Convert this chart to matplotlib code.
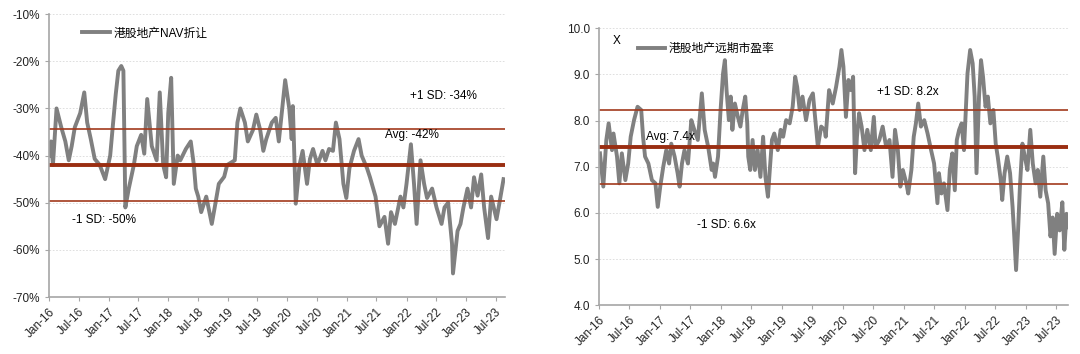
import matplotlib
matplotlib.use("Agg")
import matplotlib.pyplot as plt
import matplotlib.dates as mdates
from matplotlib.ticker import FuncFormatter, MultipleLocator
import pandas as pd

plt.rcParams['font.family'] = ['Liberation Sans', 'Noto Sans CJK SC']
plt.rcParams['axes.unicode_minus'] = False

# ---- left: HK property NAV discount (%) ----
nav_dates = [
    '2016-01-01', '2016-01-13', '2016-01-25', '2016-02-16', '2016-03-16', '2016-04-10',
    '2016-05-01', '2016-05-19', '2016-06-07', '2016-07-10', '2016-08-04', '2016-08-22',
    '2016-09-13', '2016-10-07', '2016-11-07', '2016-12-10', '2017-01-10', '2017-01-28',
    '2017-02-13', '2017-03-01', '2017-03-19', '2017-04-01', '2017-04-13', '2017-05-04',
    '2017-06-04', '2017-06-22', '2017-07-19', '2017-08-07', '2017-08-25', '2017-09-22',
    '2017-10-22', '2017-11-10', '2017-12-01', '2017-12-19', '2018-01-01', '2018-01-19',
    '2018-02-04', '2018-02-28', '2018-03-16', '2018-04-19', '2018-05-19', '2018-06-07',
    '2018-06-19', '2018-07-04', '2018-07-22', '2018-08-22', '2018-09-25', '2018-10-13',
    '2018-11-07', '2018-12-10', '2018-12-28', '2019-02-13', '2019-03-01', '2019-03-19',
    '2019-04-16', '2019-05-04', '2019-06-04', '2019-06-25', '2019-07-19', '2019-08-07',
    '2019-08-25', '2019-09-28', '2019-10-22', '2019-11-10', '2019-12-01', '2019-12-19',
    '2020-01-13', '2020-01-28', '2020-02-04', '2020-02-22', '2020-03-16', '2020-04-04',
    '2020-05-01', '2020-05-19', '2020-06-07', '2020-07-04', '2020-08-04', '2020-08-22',
    '2020-09-13', '2020-10-07', '2020-10-25', '2020-11-16', '2020-12-10', '2020-12-28',
    '2021-01-16', '2021-02-13', '2021-03-13', '2021-04-01', '2021-05-04', '2021-05-22',
    '2021-06-25', '2021-07-19', '2021-08-19', '2021-09-10', '2021-09-28', '2021-10-22',
    '2021-11-25', '2021-12-13', '2022-01-01', '2022-01-28', '2022-02-16', '2022-03-04',
    '2022-03-28', '2022-04-19', '2022-05-07', '2022-06-07', '2022-07-04', '2022-08-04',
    '2022-08-22', '2022-09-13', '2022-10-07', '2022-10-13', '2022-11-10', '2022-11-28',
    '2022-12-16', '2023-01-10', '2023-02-01', '2023-02-19', '2023-03-13', '2023-04-04',
    '2023-04-22', '2023-05-16', '2023-06-04', '2023-07-07', '2023-07-25', '2023-08-19',
]
nav_disc = [
    -40, -37, -42, -30, -34, -37,
    -41, -38, -34, -31, -26.6, -33,
    -36.5, -40.7, -42, -45, -40, -33,
    -27, -22, -21, -22, -51, -47,
    -42, -38, -35.6, -39.6, -28, -38,
    -41, -26.6, -42, -44.6, -31, -23.5,
    -46, -40, -41, -38.6, -37, -42,
    -47, -48.7, -52, -48.7, -54.5, -51,
    -46, -44.5, -42, -41, -33, -30,
    -33, -37, -34.6, -31.3, -34.6, -39,
    -36.5, -33, -32, -37, -30, -24,
    -30, -36.5, -29.5, -50.2, -42, -39,
    -46, -40.7, -38.6, -42, -39, -41,
    -38.6, -39, -33, -36.5, -46, -49,
    -42.7, -39, -36.5, -40, -42.7, -44.6,
    -48.7, -55, -53, -58.7, -52, -54.5,
    -48.7, -51, -46, -37.6, -46, -54.5,
    -41, -46, -49, -47, -51, -54.5,
    -51, -50, -58.7, -65, -56, -54.5,
    -51, -47, -51, -44.6, -48.5, -44,
    -51, -57.5, -48.7, -53.5, -50, -45,
]
nav_avg, nav_up, nav_dn = -41.9, -34.4, -49.6

# ---- right: HK property forward P/E (x) ----
pe_dates = [
    '2016-01-07', '2016-01-27', '2016-02-14', '2016-02-28', '2016-03-19', '2016-03-28',
    '2016-04-18', '2016-05-02', '2016-05-17', '2016-06-07', '2016-06-24', '2016-07-09',
    '2016-07-29', '2016-08-19', '2016-09-10', '2016-09-21', '2016-10-03', '2016-10-23',
    '2016-11-13', '2016-12-04', '2016-12-18', '2017-01-02', '2017-01-20', '2017-02-07',
    '2017-02-24', '2017-03-09', '2017-03-29', '2017-04-16', '2017-04-28', '2017-05-12',
    '2017-05-27', '2017-06-17', '2017-07-07', '2017-07-25', '2017-08-15', '2017-09-08',
    '2017-09-25', '2017-10-16', '2017-11-06', '2017-11-15', '2017-11-26', '2017-12-14',
    '2017-12-28', '2018-01-13', '2018-01-24', '2018-02-03', '2018-02-17', '2018-02-28',
    '2018-03-10', '2018-03-25', '2018-04-12', '2018-04-27', '2018-05-11', '2018-05-26',
    '2018-06-07', '2018-06-13', '2018-06-25', '2018-07-09', '2018-07-23', '2018-08-08',
    '2018-08-25', '2018-09-10', '2018-09-24', '2018-10-09', '2018-10-20', '2018-11-02',
    '2018-11-16', '2018-12-07', '2018-12-24', '2019-01-08', '2019-01-26', '2019-02-16',
    '2019-03-06', '2019-03-21', '2019-04-02', '2019-04-17', '2019-05-04', '2019-05-25',
    '2019-06-15', '2019-07-05', '2019-07-16', '2019-08-04', '2019-08-24', '2019-09-14',
    '2019-09-20', '2019-10-10', '2019-11-01', '2019-11-21', '2019-12-11', '2019-12-23',
    '2020-01-04', '2020-01-19', '2020-02-03', '2020-02-18', '2020-03-02', '2020-03-14',
    '2020-03-25', '2020-04-07', '2020-04-22', '2020-05-09', '2020-05-26', '2020-06-16',
    '2020-07-04', '2020-07-15', '2020-08-06', '2020-08-26', '2020-09-16', '2020-10-06',
    '2020-10-24', '2020-11-08', '2020-11-25', '2020-12-10', '2020-12-25', '2021-01-15',
    '2021-01-26', '2021-02-14', '2021-02-28', '2021-03-13', '2021-03-27', '2021-04-12',
    '2021-05-02', '2021-05-22', '2021-06-12', '2021-06-30', '2021-07-20', '2021-07-29',
    '2021-08-13', '2021-08-28', '2021-09-18', '2021-10-02', '2021-10-17', '2021-11-01',
    '2021-11-13', '2021-11-27', '2021-12-12', '2021-12-26', '2022-01-05', '2022-01-16',
    '2022-02-01', '2022-02-16', '2022-02-28', '2022-03-11', '2022-03-26', '2022-04-07',
    '2022-04-19', '2022-05-04', '2022-05-18', '2022-06-02', '2022-06-20', '2022-07-04',
    '2022-07-16', '2022-08-03', '2022-08-12', '2022-08-26', '2022-09-11', '2022-09-28',
    '2022-10-13', '2022-10-21', '2022-11-03', '2022-11-15', '2022-11-26', '2022-12-11',
    '2022-12-25', '2023-01-10', '2023-01-27', '2023-02-11', '2023-02-28', '2023-03-13',
    '2023-03-28', '2023-04-15', '2023-04-29', '2023-05-14', '2023-05-28', '2023-06-10',
    '2023-06-22', '2023-07-07', '2023-07-22', '2023-08-07', '2023-08-19', '2023-09-01',
    '2023-09-10',
]
pe_fwd = [
    7.29, 6.57, 7.58, 7.94, 7.36, 7.72,
    7.22, 6.64, 7.29, 6.71, 7.07, 7.65,
    8.01, 8.30, 8.23, 7.65, 7.22, 7.07,
    6.71, 6.64, 6.13, 6.57, 7.00, 7.36,
    7.07, 7.50, 7.22, 6.86, 6.57, 7.07,
    7.36, 7.07, 8.01, 7.80, 7.58, 8.59,
    7.80, 7.43, 6.93, 7.07, 6.78, 7.22,
    8.16, 9.02, 9.31, 8.66, 8.01, 8.52,
    7.80, 8.37, 8.08, 7.87, 8.23, 8.52,
    7.94, 7.22, 6.93, 7.58, 6.93, 7.36,
    6.78, 7.65, 6.78, 6.35, 6.93, 7.58,
    7.72, 7.36, 7.80, 7.65, 8.01, 7.94,
    8.30, 8.95, 8.73, 8.23, 8.52, 8.01,
    8.45, 8.59, 8.16, 7.43, 7.87, 7.80,
    7.65, 8.66, 8.37, 8.73, 9.17, 9.53,
    9.17, 8.08, 8.88, 8.66, 8.95, 6.86,
    7.65, 8.16, 7.87, 7.36, 7.80, 7.36,
    8.08, 7.43, 7.58, 7.87, 7.43, 7.58,
    6.78, 7.80, 7.36, 6.57, 6.93, 6.64,
    6.42, 6.93, 7.65, 7.94, 8.37, 7.87,
    8.01, 7.72, 7.36, 7.07, 6.21, 6.86,
    6.42, 6.64, 6.06, 6.93, 7.29, 6.49,
    7.58, 7.80, 7.94, 7.36, 8.16, 9.02,
    9.53, 9.24, 8.52, 6.86, 8.52, 9.31,
    8.95, 8.30, 8.52, 7.94, 8.23, 7.50,
    7.22, 6.71, 6.28, 6.86, 7.22, 6.86,
    6.13, 5.63, 4.76, 5.63, 6.57, 7.50,
    7.22, 6.93, 7.80, 7.07, 6.64, 6.93,
    6.35, 7.22, 6.49, 6.21, 5.49, 5.90,
    5.11, 5.98, 5.62, 6.23, 5.20, 5.98,
    5.69,
]
pe_avg, pe_up, pe_dn = 7.42, 8.22, 6.62

nav_x = pd.to_datetime(nav_dates)
pe_x = pd.to_datetime(pe_dates)

grey = '#808080'
red = '#a2391c'
dark_red = '#9a2e12'
axis_col = '#a6a6a6'
fs = 8.5

fig = plt.figure(figsize=(10.8, 3.54), dpi=100)
ax1 = fig.add_axes([0.0454, 0.161, 0.4222, 0.799])
ax2 = fig.add_axes([0.5546, 0.138, 0.4343, 0.782])


def style(ax, start, end):
    ax.set_xlim(pd.Timestamp(start), pd.Timestamp(end))
    ax.xaxis.set_major_locator(mdates.MonthLocator(bymonth=[1, 7]))
    ax.xaxis.set_major_formatter(mdates.DateFormatter('%b-%y'))
    for lab in ax.get_xticklabels():
        lab.set_rotation(45)
        lab.set_ha('right')
        lab.set_rotation_mode('anchor')
    ax.tick_params(axis='both', labelsize=fs, colors='#222222', length=3,
                   width=0.8, direction='out')
    ax.tick_params(axis='both', color=axis_col)
    for s in ['top', 'right']:
        ax.spines[s].set_visible(False)
    for s in ['left', 'bottom']:
        ax.spines[s].set_color(axis_col)
        ax.spines[s].set_linewidth(1.2)
    ax.grid(axis='y', color='#d9d9d9', linestyle=(0, (2, 2)), linewidth=0.6)
    ax.set_axisbelow(True)


# left panel
ax1.plot(nav_x, nav_disc, color=grey, lw=2.8, label='港股地产NAV折让')
ax1.axhline(nav_up, color=red, lw=1.2)
ax1.axhline(nav_avg, color=dark_red, lw=2.8)
ax1.axhline(nav_dn, color=red, lw=1.2)
ax1.set_ylim(-70, -10)
ax1.yaxis.set_major_locator(MultipleLocator(10))
ax1.yaxis.set_major_formatter(FuncFormatter(lambda v, p: f'{v:.0f}%'))
style(ax1, '2016-01-01', '2023-08-28')
ax1.text(pd.Timestamp('2022-01-25'), -27.4, '+1 SD: -34%', fontsize=fs, va='center')
ax1.text(pd.Timestamp('2021-08-25'), -35.7, 'Avg: -42%', fontsize=fs, va='center')
ax1.text(pd.Timestamp('2016-05-20'), -53.6, '-1 SD: -50%', fontsize=fs, va='center')
ax1.legend(loc='upper left', bbox_to_anchor=(0.05, 0.99), frameon=False,
           fontsize=fs, handlelength=2.3, handletextpad=0.3)

# right panel
ax2.plot(pe_x, pe_fwd, color=grey, lw=2.8, label='港股地产远期市盈率')
ax2.axhline(pe_up, color=red, lw=1.2)
ax2.axhline(pe_avg, color=dark_red, lw=2.8)
ax2.axhline(pe_dn, color=red, lw=1.2)
ax2.set_ylim(4, 10)
ax2.yaxis.set_major_locator(MultipleLocator(1))
ax2.yaxis.set_major_formatter(FuncFormatter(lambda v, p: f'{v:.1f}'))
style(ax2, '2016-01-01', '2023-09-10')
ax2.text(pd.Timestamp('2020-07-25'), 8.62, '+1 SD: 8.2x', fontsize=fs, va='center')
ax2.text(pd.Timestamp('2016-10-10'), 7.65, 'Avg: 7.4x', fontsize=fs, va='center')
ax2.text(pd.Timestamp('2017-08-10'), 5.74, '-1 SD: 6.6x', fontsize=fs, va='center')
ax2.text(pd.Timestamp('2016-03-22'), 9.72, 'X', fontsize=fs, va='center')
ax2.legend(loc='upper left', bbox_to_anchor=(0.06, 0.985), frameon=False,
           fontsize=fs, handlelength=2.3, handletextpad=0.3)

fig.savefig('out.png', dpi=100)
